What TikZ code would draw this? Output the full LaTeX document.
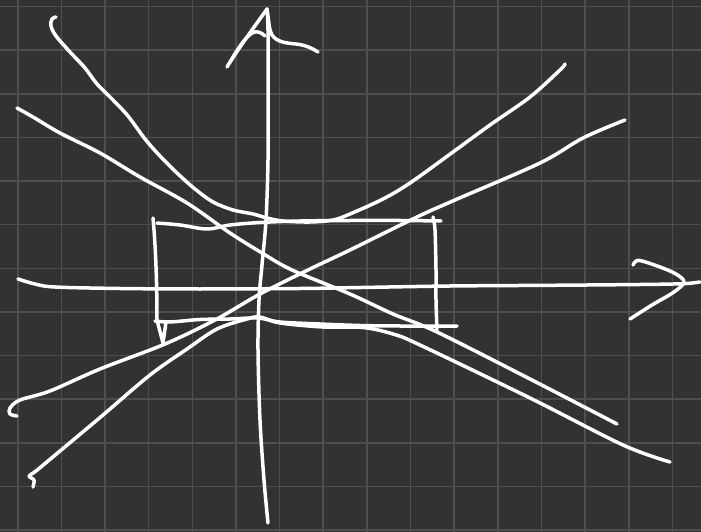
\documentclass[tikz,border=0pt]{standalone}
\usepackage{tikz}
\definecolor{Board}{HTML}{323232}
\definecolor{GridLine}{HTML}{4E4E4E}
\definecolor{Chalk}{HTML}{FFFFFF}
\tikzset{gridline/.style={draw=GridLine,line width=1.6bp},ink/.style={draw=Chalk,line width=3.5bp,line cap=round,line join=round},stroke/.style={ink,smooth,tension=0.55}}
\begin{document}
\begin{tikzpicture}[x=1bp,y=-1bp]
      \fill[Board](0,0)rectangle(701,532);
      \useasboundingbox(0,0)rectangle(701,532);
      \foreach \i in {0,...,15}\draw[gridline]({17.7+43.65*\i},0)--({17.7+43.65*\i},532);
      \foreach \j in {0,...,12}\draw[gridline](0,{6.7+43.6*\j})--(701,{6.7+43.6*\j});
      \draw[stroke]plot coordinates{(268,523)(264,480)(260,420)(258,350)(259,300)(262,265)(266,220)(268,160)(268,90)(268,30)(267,9)};
      \draw[ink](267,9)..controls(255,26)and(240,46)..(227,67)..controls(236,52)and(244,38)..(252,33)..controls(257,30)and(262,33)..(265,36);
      \draw[ink](267,9)..controls(269,22)and(269,30)..(272,35)..controls(277,42)and(285,43)..(296,44)..controls(305,45)and(312,48)..(318,52);
      \draw[stroke]plot coordinates{(18,279)(35,284)(55,287)(120,288.5)(200,289)(300,288.5)(350,287.7)(450,286)(550,285.3)(640,284.5)(683,283.7)(700,282)};
      \draw[stroke]plot coordinates{(633,265)(636,261)(642,261)(660,267)(676,274)(684,282)(674,292)(652,305)(630,319)};
      \draw[stroke]plot coordinates{(157,223)(180,225)(207,229)(230,225)(260,222.5)(300,221)(350,220.5)(400,220.5)(441,221)};
      \draw[ink](153,218)..controls(156,250)and(157,290)..(157,320)--(163,343)--(166,322);
      \draw[stroke]plot coordinates{(155,321)(170,322)(200,319.5)(230,319)(258,318)(280,322)(320,324)(360,325.5)(400,326)(457,326)};
      \draw[stroke]plot coordinates{(433,217)(435,230)(436,270)(436,300)(437,330)};
      \draw[stroke]plot coordinates{(56,17)(52,19)(51,26)(56,36)(70,52)(85,68)(97,84)(112,99)(128,116)(145,139)(160,156)(177,173)(195,189)(213,202)(233,210)(253,214)(267,218)(283,221)(310,222)(333,220)(350,214)(383,199)(410,183)(453,152)(490,125)(530,97)(560,70)(565,64)};
      \draw[stroke]plot coordinates{(17,108)(33,117)(60,133)(100,153)(140,177)(187,203)(230,233)(262,253)(292,270)(350,294)(393,314)(437,332)(530,379)(617,424)};
      \draw[stroke]plot coordinates{(17,416)(10,414)(10,408)(20,400)(50,391)(100,369)(165,344)(215,320)(260,294)(310,269)(350,250)(417,217)(455,200)(540,163)(583,138)(625,120)};
      \draw[stroke]plot coordinates{(33,487)(34,480)(29,476)(36,471)(60,451)(103,415)(150,375)(187,349)(217,329)(247,319)(260,317)(280,323)(323,327)(363,327.5)(393,334)(420,345)(530,398)(623,445)(670,462)};
    \end{tikzpicture}
\end{document}
